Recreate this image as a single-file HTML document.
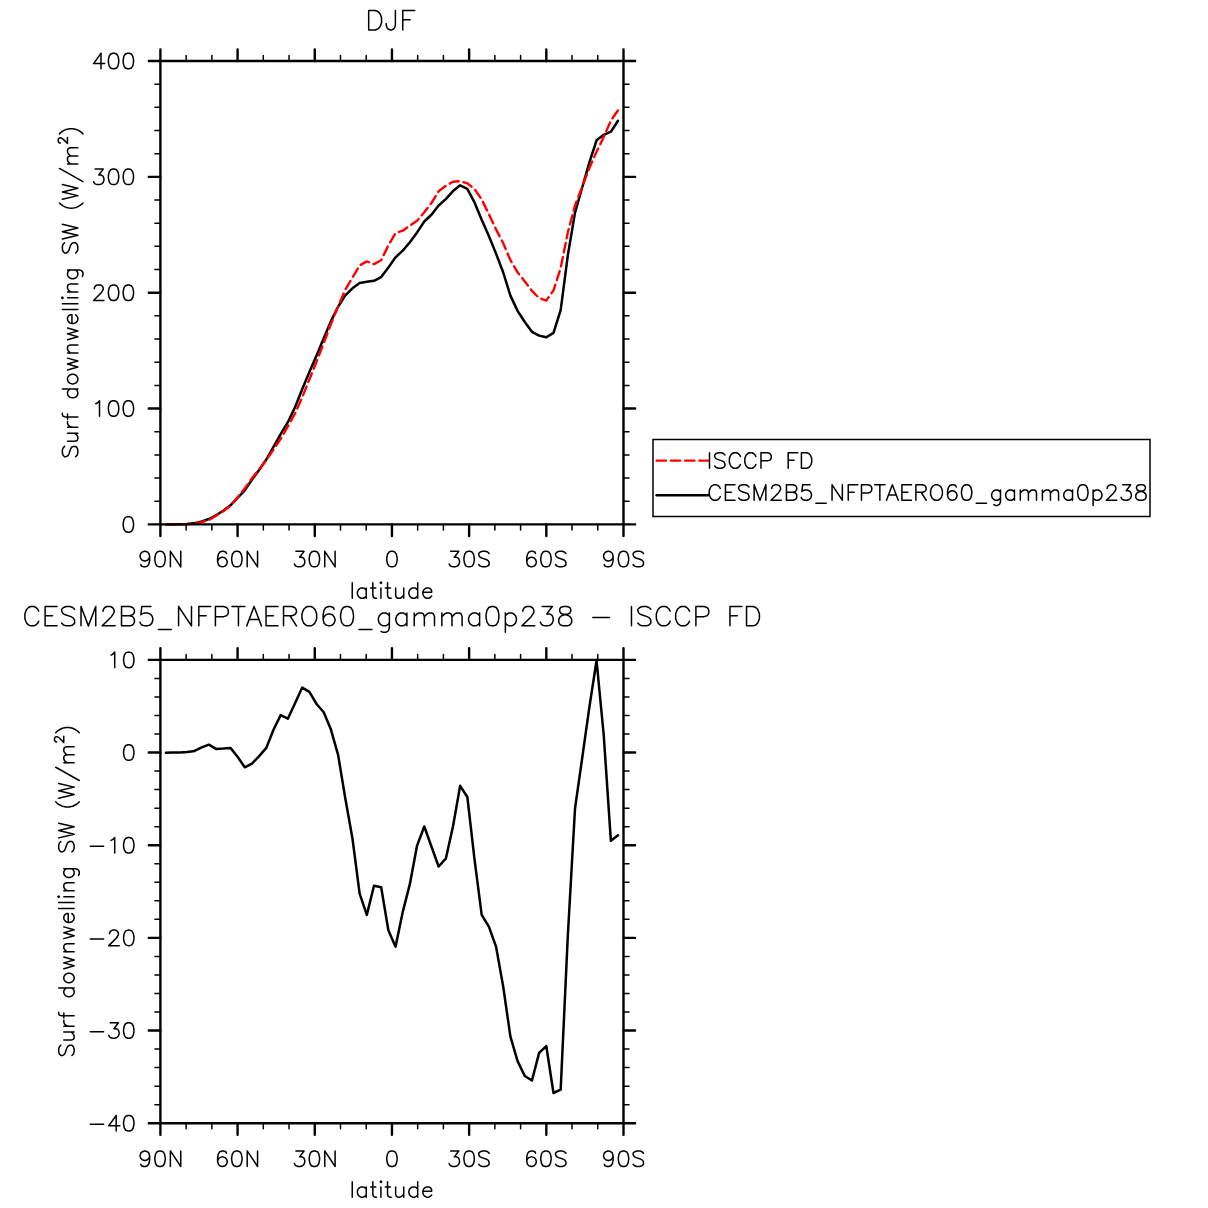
<!DOCTYPE html>
<html><head><meta charset="utf-8"><style>
html,body{margin:0;padding:0;background:#fff;}
svg{display:block;}
</style></head><body>
<svg width="1208" height="1208" viewBox="0 0 1208 1208">
<rect width="1208" height="1208" fill="#fff"/>
<path d="M165.90,524.40 L173.02,524.40 L180.18,524.20 L187.35,524.00 L194.52,523.10 L201.70,521.50 L208.88,519.00 L216.05,515.30 L223.23,510.70 L230.41,505.30 L237.59,497.90 L244.77,490.40 L251.95,479.70 L259.13,470.00 L266.31,459.50 L273.49,446.80 L280.67,434.10 L287.85,422.20 L295.03,407.30 L302.21,389.20 L309.38,371.90 L316.56,355.45 L323.74,338.20 L330.92,321.15 L338.10,306.75 L345.28,295.45 L352.46,288.35 L359.64,283.10 L366.82,281.70 L374.00,280.80 L381.18,277.10 L388.36,267.60 L395.54,257.30 L402.72,250.60 L409.90,242.20 L417.08,232.40 L424.26,221.50 L431.44,214.75 L438.62,205.55 L445.80,199.10 L452.98,191.05 L460.16,185.30 L467.34,188.85 L474.52,202.45 L481.69,219.70 L488.87,236.00 L496.05,253.60 L503.23,272.50 L510.41,295.65 L517.59,310.85 L524.77,321.95 L531.95,331.80 L539.13,335.60 L546.31,337.30 L553.49,332.90 L560.67,310.10 L567.85,255.10 L575.02,212.60 L582.20,187.50 L589.38,162.30 L596.55,140.30 L603.72,134.80 L610.88,131.70 L618.00,120.70" fill="none" stroke="#000" stroke-width="2.5" stroke-linejoin="round" stroke-linecap="round"/>
<path d="M165.90,524.37 L173.02,524.41 L180.18,524.21 L187.35,524.06 L194.52,523.31 L201.70,522.15 L208.88,519.98 L216.05,515.76 L223.23,511.21 L230.41,505.88 L237.59,497.37 L244.77,488.56 L251.95,478.32 L259.13,469.56 L266.31,460.08 L273.49,449.66 L280.67,438.78 L287.85,426.43 L295.03,413.47 L302.21,397.32 L309.38,379.50 L316.56,361.52 L323.74,343.25 L330.92,324.02 L338.10,306.46 L345.28,289.73 L352.46,277.61 L359.64,265.45 L366.82,261.40 L374.00,264.15 L381.18,260.27 L388.36,245.38 L395.54,233.03 L402.72,230.65 L409.90,225.78 L417.08,220.77 L424.26,212.26 L431.44,203.00 L438.62,191.30 L445.80,185.83 L452.98,181.81 L460.16,181.14 L467.34,183.29 L474.52,189.10 L481.69,199.42 L488.87,214.24 L496.05,229.34 L503.23,243.23 L510.41,260.14 L517.59,272.27 L524.77,281.51 L531.95,290.80 L539.13,298.05 L546.31,300.59 L553.49,290.34 L560.67,267.96 L567.85,232.29 L575.02,205.61 L582.20,186.82 L589.38,167.97 L596.55,151.81 L603.72,137.00 L610.88,120.67 L618.00,110.37" fill="none" stroke="#f00" stroke-width="2.4" stroke-dasharray="9.44 4.877" stroke-dashoffset="-1.58" stroke-linejoin="round" stroke-linecap="round"/>
<path d="M165.90,752.80 L173.02,752.50 L180.18,752.50 L187.35,752.10 L194.52,750.90 L201.70,747.40 L208.88,744.70 L216.05,748.90 L223.23,748.50 L230.41,747.90 L237.59,756.80 L244.77,767.30 L251.95,763.60 L259.13,756.10 L266.31,747.90 L273.49,729.70 L280.67,715.10 L287.85,718.70 L295.03,703.20 L302.21,687.60 L309.38,691.80 L316.56,704.00 L323.74,712.20 L330.92,729.60 L338.10,754.90 L345.28,798.30 L352.46,838.50 L359.64,893.70 L366.82,914.90 L374.00,885.70 L381.18,887.20 L388.36,930.30 L395.54,946.70 L402.72,912.10 L409.90,883.90 L417.08,845.60 L424.26,826.50 L431.44,846.50 L438.62,866.50 L445.80,858.70 L452.98,826.50 L460.16,785.80 L467.34,797.00 L474.52,859.30 L481.69,914.80 L488.87,926.60 L496.05,946.60 L503.23,986.70 L510.41,1036.60 L517.59,1061.10 L524.77,1076.00 L531.95,1080.50 L539.13,1052.90 L546.31,1046.20 L553.49,1093.00 L560.67,1089.60 L567.85,935.00 L575.02,808.50 L582.20,758.00 L589.38,707.20 L596.55,660.50 L603.72,735.00 L610.88,840.80 L618.00,835.20" fill="none" stroke="#000" stroke-width="2.5" stroke-linejoin="round" stroke-linecap="round"/>
<path d="M160.4,61.0H623.5V524.4H160.4Z" fill="none" stroke="#000" stroke-width="2.4" stroke-linejoin="round"/>
<path d="M160.40,61.0V49.4M160.40,524.4V536.0M237.58,61.0V49.4M237.58,524.4V536.0M314.77,61.0V49.4M314.77,524.4V536.0M391.95,61.0V49.4M391.95,524.4V536.0M469.13,61.0V49.4M469.13,524.4V536.0M546.32,61.0V49.4M546.32,524.4V536.0M623.50,61.0V49.4M623.50,524.4V536.0M160.4,524.40H148.8M623.5,524.40H635.1M160.4,408.55H148.8M623.5,408.55H635.1M160.4,292.70H148.8M623.5,292.70H635.1M160.4,176.85H148.8M623.5,176.85H635.1M160.4,61.00H148.8M623.5,61.00H635.1" fill="none" stroke="#000" stroke-width="2.4" stroke-linecap="round"/>
<path d="M186.13,61.0V55.5M186.13,524.4V529.9M211.86,61.0V55.5M211.86,524.4V529.9M263.31,61.0V55.5M263.31,524.4V529.9M289.04,61.0V55.5M289.04,524.4V529.9M340.49,61.0V55.5M340.49,524.4V529.9M366.22,61.0V55.5M366.22,524.4V529.9M417.68,61.0V55.5M417.68,524.4V529.9M443.41,61.0V55.5M443.41,524.4V529.9M494.86,61.0V55.5M494.86,524.4V529.9M520.59,61.0V55.5M520.59,524.4V529.9M572.04,61.0V55.5M572.04,524.4V529.9M597.77,61.0V55.5M597.77,524.4V529.9M160.4,501.23H154.9M623.5,501.23H629.0M160.4,478.06H154.9M623.5,478.06H629.0M160.4,454.89H154.9M623.5,454.89H629.0M160.4,431.72H154.9M623.5,431.72H629.0M160.4,385.38H154.9M623.5,385.38H629.0M160.4,362.21H154.9M623.5,362.21H629.0M160.4,339.04H154.9M623.5,339.04H629.0M160.4,315.87H154.9M623.5,315.87H629.0M160.4,269.53H154.9M623.5,269.53H629.0M160.4,246.36H154.9M623.5,246.36H629.0M160.4,223.19H154.9M623.5,223.19H629.0M160.4,200.02H154.9M623.5,200.02H629.0M160.4,153.68H154.9M623.5,153.68H629.0M160.4,130.51H154.9M623.5,130.51H629.0M160.4,107.34H154.9M623.5,107.34H629.0M160.4,84.17H154.9M623.5,84.17H629.0" fill="none" stroke="#000" stroke-width="1.5" stroke-linecap="round"/>
<path d="M160.4,659.9H623.5V1123.2H160.4Z" fill="none" stroke="#000" stroke-width="2.4" stroke-linejoin="round"/>
<path d="M160.40,659.9V648.3M160.40,1123.2V1134.8M237.58,659.9V648.3M237.58,1123.2V1134.8M314.77,659.9V648.3M314.77,1123.2V1134.8M391.95,659.9V648.3M391.95,1123.2V1134.8M469.13,659.9V648.3M469.13,1123.2V1134.8M546.32,659.9V648.3M546.32,1123.2V1134.8M623.50,659.9V648.3M623.50,1123.2V1134.8M160.4,1123.20H148.8M623.5,1123.20H635.1M160.4,1030.54H148.8M623.5,1030.54H635.1M160.4,937.88H148.8M623.5,937.88H635.1M160.4,845.22H148.8M623.5,845.22H635.1M160.4,752.56H148.8M623.5,752.56H635.1M160.4,659.90H148.8M623.5,659.90H635.1" fill="none" stroke="#000" stroke-width="2.4" stroke-linecap="round"/>
<path d="M186.13,659.9V654.4M186.13,1123.2V1128.7M211.86,659.9V654.4M211.86,1123.2V1128.7M263.31,659.9V654.4M263.31,1123.2V1128.7M289.04,659.9V654.4M289.04,1123.2V1128.7M340.49,659.9V654.4M340.49,1123.2V1128.7M366.22,659.9V654.4M366.22,1123.2V1128.7M417.68,659.9V654.4M417.68,1123.2V1128.7M443.41,659.9V654.4M443.41,1123.2V1128.7M494.86,659.9V654.4M494.86,1123.2V1128.7M520.59,659.9V654.4M520.59,1123.2V1128.7M572.04,659.9V654.4M572.04,1123.2V1128.7M597.77,659.9V654.4M597.77,1123.2V1128.7M160.4,1104.67H154.9M623.5,1104.67H629.0M160.4,1086.14H154.9M623.5,1086.14H629.0M160.4,1067.60H154.9M623.5,1067.60H629.0M160.4,1049.07H154.9M623.5,1049.07H629.0M160.4,1012.01H154.9M623.5,1012.01H629.0M160.4,993.48H154.9M623.5,993.48H629.0M160.4,974.94H154.9M623.5,974.94H629.0M160.4,956.41H154.9M623.5,956.41H629.0M160.4,919.35H154.9M623.5,919.35H629.0M160.4,900.82H154.9M623.5,900.82H629.0M160.4,882.28H154.9M623.5,882.28H629.0M160.4,863.75H154.9M623.5,863.75H629.0M160.4,826.69H154.9M623.5,826.69H629.0M160.4,808.16H154.9M623.5,808.16H629.0M160.4,789.62H154.9M623.5,789.62H629.0M160.4,771.09H154.9M623.5,771.09H629.0M160.4,734.03H154.9M623.5,734.03H629.0M160.4,715.50H154.9M623.5,715.50H629.0M160.4,696.96H154.9M623.5,696.96H629.0M160.4,678.43H154.9M623.5,678.43H629.0" fill="none" stroke="#000" stroke-width="1.5" stroke-linecap="round"/>
<rect x="653" y="439.5" width="497" height="77" fill="none" stroke="#000" stroke-width="1.5"/>
<path d="M656.6,460.6H708.5" stroke="#f00" stroke-width="2.4" stroke-dasharray="9.4 4.85" stroke-linecap="round"/>
<path d="M656.6,495.3H708.5" stroke="#000" stroke-width="2.5" stroke-linecap="round"/>
<path d="M368.69,10.58L368.69,29.92M368.69,10.58L375.13,10.58L377.89,11.51L379.73,13.35L380.65,15.19L381.57,17.95L381.57,22.55L380.65,25.31L379.73,27.15L377.89,28.99L375.13,29.92L368.69,29.92M395.38,10.58L395.38,25.31L394.46,28.07L393.54,28.99L391.70,29.92L389.86,29.92L388.02,28.99L387.10,28.07L386.18,25.31L386.18,23.47M402.75,10.58L402.75,29.92M402.75,10.58L414.71,10.58M402.75,19.79L410.11,19.79M127.63,516.63L125.41,517.37L123.93,519.59L123.19,523.29L123.19,525.51L123.93,529.21L125.41,531.43L127.63,532.17L129.11,532.17L131.33,531.43L132.81,529.21L133.55,525.51L133.55,523.29L132.81,519.59L131.33,517.37L129.11,516.63L127.63,516.63M95.81,403.74L97.29,403.00L99.51,400.78L99.51,416.32M112.83,400.78L110.61,401.52L109.13,403.74L108.39,407.44L108.39,409.66L109.13,413.36L110.61,415.58L112.83,416.32L114.31,416.32L116.53,415.58L118.01,413.36L118.75,409.66L118.75,407.44L118.01,403.74L116.53,401.52L114.31,400.78L112.83,400.78M127.63,400.78L125.41,401.52L123.93,403.74L123.19,407.44L123.19,409.66L123.93,413.36L125.41,415.58L127.63,416.32L129.11,416.32L131.33,415.58L132.81,413.36L133.55,409.66L133.55,407.44L132.81,403.74L131.33,401.52L129.11,400.78L127.63,400.78M94.33,288.63L94.33,287.89L95.07,286.41L95.81,285.67L97.29,284.93L100.25,284.93L101.73,285.67L102.47,286.41L103.21,287.89L103.21,289.37L102.47,290.85L100.99,293.07L93.59,300.47L103.95,300.47M112.83,284.93L110.61,285.67L109.13,287.89L108.39,291.59L108.39,293.81L109.13,297.51L110.61,299.73L112.83,300.47L114.31,300.47L116.53,299.73L118.01,297.51L118.75,293.81L118.75,291.59L118.01,287.89L116.53,285.67L114.31,284.93L112.83,284.93M127.63,284.93L125.41,285.67L123.93,287.89L123.19,291.59L123.19,293.81L123.93,297.51L125.41,299.73L127.63,300.47L129.11,300.47L131.33,299.73L132.81,297.51L133.55,293.81L133.55,291.59L132.81,287.89L131.33,285.67L129.11,284.93L127.63,284.93M95.07,169.08L103.21,169.08L98.77,175.00L100.99,175.00L102.47,175.74L103.21,176.48L103.95,178.70L103.95,180.18L103.21,182.40L101.73,183.88L99.51,184.62L97.29,184.62L95.07,183.88L94.33,183.14L93.59,181.66M112.83,169.08L110.61,169.82L109.13,172.04L108.39,175.74L108.39,177.96L109.13,181.66L110.61,183.88L112.83,184.62L114.31,184.62L116.53,183.88L118.01,181.66L118.75,177.96L118.75,175.74L118.01,172.04L116.53,169.82L114.31,169.08L112.83,169.08M127.63,169.08L125.41,169.82L123.93,172.04L123.19,175.74L123.19,177.96L123.93,181.66L125.41,183.88L127.63,184.62L129.11,184.62L131.33,183.88L132.81,181.66L133.55,177.96L133.55,175.74L132.81,172.04L131.33,169.82L129.11,169.08L127.63,169.08M100.99,53.23L93.59,63.59L104.69,63.59M100.99,53.23L100.99,68.77M112.83,53.23L110.61,53.97L109.13,56.19L108.39,59.89L108.39,62.11L109.13,65.81L110.61,68.03L112.83,68.77L114.31,68.77L116.53,68.03L118.01,65.81L118.75,62.11L118.75,59.89L118.01,56.19L116.53,53.97L114.31,53.23L112.83,53.23M127.63,53.23L125.41,53.97L123.93,56.19L123.19,59.89L123.19,62.11L123.93,65.81L125.41,68.03L127.63,68.77L129.11,68.77L131.33,68.03L132.81,65.81L133.55,62.11L133.55,59.89L132.81,56.19L131.33,53.97L129.11,53.23L127.63,53.23M111.01,655.09L112.49,654.35L114.71,652.13L114.71,667.67M128.03,652.13L125.81,652.87L124.33,655.09L123.59,658.79L123.59,661.01L124.33,664.71L125.81,666.93L128.03,667.67L129.51,667.67L131.73,666.93L133.21,664.71L133.95,661.01L133.95,658.79L133.21,655.09L131.73,652.87L129.51,652.13L128.03,652.13M128.03,744.79L125.81,745.53L124.33,747.75L123.59,751.45L123.59,753.67L124.33,757.37L125.81,759.59L128.03,760.33L129.51,760.33L131.73,759.59L133.21,757.37L133.95,753.67L133.95,751.45L133.21,747.75L131.73,745.53L129.51,744.79L128.03,744.79M90.29,846.33L103.61,846.33M111.01,840.41L112.49,839.67L114.71,837.45L114.71,852.99M128.03,837.45L125.81,838.19L124.33,840.41L123.59,844.11L123.59,846.33L124.33,850.03L125.81,852.25L128.03,852.99L129.51,852.99L131.73,852.25L133.21,850.03L133.95,846.33L133.95,844.11L133.21,840.41L131.73,838.19L129.51,837.45L128.03,837.45M90.29,938.99L103.61,938.99M109.53,933.81L109.53,933.07L110.27,931.59L111.01,930.85L112.49,930.11L115.45,930.11L116.93,930.85L117.67,931.59L118.41,933.07L118.41,934.55L117.67,936.03L116.19,938.25L108.79,945.65L119.15,945.65M128.03,930.11L125.81,930.85L124.33,933.07L123.59,936.77L123.59,938.99L124.33,942.69L125.81,944.91L128.03,945.65L129.51,945.65L131.73,944.91L133.21,942.69L133.95,938.99L133.95,936.77L133.21,933.07L131.73,930.85L129.51,930.11L128.03,930.11M90.29,1031.65L103.61,1031.65M110.27,1022.77L118.41,1022.77L113.97,1028.69L116.19,1028.69L117.67,1029.43L118.41,1030.17L119.15,1032.39L119.15,1033.87L118.41,1036.09L116.93,1037.57L114.71,1038.31L112.49,1038.31L110.27,1037.57L109.53,1036.83L108.79,1035.35M128.03,1022.77L125.81,1023.51L124.33,1025.73L123.59,1029.43L123.59,1031.65L124.33,1035.35L125.81,1037.57L128.03,1038.31L129.51,1038.31L131.73,1037.57L133.21,1035.35L133.95,1031.65L133.95,1029.43L133.21,1025.73L131.73,1023.51L129.51,1022.77L128.03,1022.77M90.29,1124.31L103.61,1124.31M116.19,1115.43L108.79,1125.79L119.89,1125.79M116.19,1115.43L116.19,1130.97M128.03,1115.43L125.81,1116.17L124.33,1118.39L123.59,1122.09L123.59,1124.31L124.33,1128.01L125.81,1130.23L128.03,1130.97L129.51,1130.97L131.73,1130.23L133.21,1128.01L133.95,1124.31L133.95,1122.09L133.21,1118.39L131.73,1116.17L129.51,1115.43L128.03,1115.43M149.67,556.51L148.93,558.73L147.45,560.21L145.23,560.95L144.49,560.95L142.27,560.21L140.79,558.73L140.05,556.51L140.05,555.77L140.79,553.55L142.27,552.07L144.49,551.33L145.23,551.33L147.45,552.07L148.93,553.55L149.67,556.51L149.67,560.21L148.93,563.91L147.45,566.13L145.23,566.87L143.75,566.87L141.53,566.13L140.79,564.65M159.29,551.33L157.07,552.07L155.59,554.29L154.85,557.99L154.85,560.21L155.59,563.91L157.07,566.13L159.29,566.87L160.77,566.87L162.99,566.13L164.47,563.91L165.21,560.21L165.21,557.99L164.47,554.29L162.99,552.07L160.77,551.33L159.29,551.33M170.39,551.33L170.39,566.87M170.39,551.33L180.75,566.87M180.75,551.33L180.75,566.87M149.67,1156.11L148.93,1158.33L147.45,1159.81L145.23,1160.55L144.49,1160.55L142.27,1159.81L140.79,1158.33L140.05,1156.11L140.05,1155.37L140.79,1153.15L142.27,1151.67L144.49,1150.93L145.23,1150.93L147.45,1151.67L148.93,1153.15L149.67,1156.11L149.67,1159.81L148.93,1163.51L147.45,1165.73L145.23,1166.47L143.75,1166.47L141.53,1165.73L140.79,1164.25M159.29,1150.93L157.07,1151.67L155.59,1153.89L154.85,1157.59L154.85,1159.81L155.59,1163.51L157.07,1165.73L159.29,1166.47L160.77,1166.47L162.99,1165.73L164.47,1163.51L165.21,1159.81L165.21,1157.59L164.47,1153.89L162.99,1151.67L160.77,1150.93L159.29,1150.93M170.39,1150.93L170.39,1166.47M170.39,1150.93L180.75,1166.47M180.75,1150.93L180.75,1166.47M226.48,553.55L225.74,552.07L223.52,551.33L222.04,551.33L219.82,552.07L218.34,554.29L217.60,557.99L217.60,561.69L218.34,564.65L219.82,566.13L222.04,566.87L222.78,566.87L225.00,566.13L226.48,564.65L227.22,562.43L227.22,561.69L226.48,559.47L225.00,557.99L222.78,557.25L222.04,557.25L219.82,557.99L218.34,559.47L217.60,561.69M236.10,551.33L233.88,552.07L232.40,554.29L231.66,557.99L231.66,560.21L232.40,563.91L233.88,566.13L236.10,566.87L237.58,566.87L239.80,566.13L241.28,563.91L242.02,560.21L242.02,557.99L241.28,554.29L239.80,552.07L237.58,551.33L236.10,551.33M247.20,551.33L247.20,566.87M247.20,551.33L257.56,566.87M257.56,551.33L257.56,566.87M226.48,1153.15L225.74,1151.67L223.52,1150.93L222.04,1150.93L219.82,1151.67L218.34,1153.89L217.60,1157.59L217.60,1161.29L218.34,1164.25L219.82,1165.73L222.04,1166.47L222.78,1166.47L225.00,1165.73L226.48,1164.25L227.22,1162.03L227.22,1161.29L226.48,1159.07L225.00,1157.59L222.78,1156.85L222.04,1156.85L219.82,1157.59L218.34,1159.07L217.60,1161.29M236.10,1150.93L233.88,1151.67L232.40,1153.89L231.66,1157.59L231.66,1159.81L232.40,1163.51L233.88,1165.73L236.10,1166.47L237.58,1166.47L239.80,1165.73L241.28,1163.51L242.02,1159.81L242.02,1157.59L241.28,1153.89L239.80,1151.67L237.58,1150.93L236.10,1150.93M247.20,1150.93L247.20,1166.47M247.20,1150.93L257.56,1166.47M257.56,1150.93L257.56,1166.47M295.90,551.33L304.04,551.33L299.60,557.25L301.82,557.25L303.30,557.99L304.04,558.73L304.78,560.95L304.78,562.43L304.04,564.65L302.56,566.13L300.34,566.87L298.12,566.87L295.90,566.13L295.16,565.39L294.42,563.91M313.66,551.33L311.44,552.07L309.96,554.29L309.22,557.99L309.22,560.21L309.96,563.91L311.44,566.13L313.66,566.87L315.14,566.87L317.36,566.13L318.84,563.91L319.58,560.21L319.58,557.99L318.84,554.29L317.36,552.07L315.14,551.33L313.66,551.33M324.76,551.33L324.76,566.87M324.76,551.33L335.12,566.87M335.12,551.33L335.12,566.87M295.90,1150.93L304.04,1150.93L299.60,1156.85L301.82,1156.85L303.30,1157.59L304.04,1158.33L304.78,1160.55L304.78,1162.03L304.04,1164.25L302.56,1165.73L300.34,1166.47L298.12,1166.47L295.90,1165.73L295.16,1164.99L294.42,1163.51M313.66,1150.93L311.44,1151.67L309.96,1153.89L309.22,1157.59L309.22,1159.81L309.96,1163.51L311.44,1165.73L313.66,1166.47L315.14,1166.47L317.36,1165.73L318.84,1163.51L319.58,1159.81L319.58,1157.59L318.84,1153.89L317.36,1151.67L315.14,1150.93L313.66,1150.93M324.76,1150.93L324.76,1166.47M324.76,1150.93L335.12,1166.47M335.12,1150.93L335.12,1166.47M391.21,551.33L388.99,552.07L387.51,554.29L386.77,557.99L386.77,560.21L387.51,563.91L388.99,566.13L391.21,566.87L392.69,566.87L394.91,566.13L396.39,563.91L397.13,560.21L397.13,557.99L396.39,554.29L394.91,552.07L392.69,551.33L391.21,551.33M391.21,1150.93L388.99,1151.67L387.51,1153.89L386.77,1157.59L386.77,1159.81L387.51,1163.51L388.99,1165.73L391.21,1166.47L392.69,1166.47L394.91,1165.73L396.39,1163.51L397.13,1159.81L397.13,1157.59L396.39,1153.89L394.91,1151.67L392.69,1150.93L391.21,1150.93M450.63,551.33L458.77,551.33L454.33,557.25L456.55,557.25L458.03,557.99L458.77,558.73L459.51,560.95L459.51,562.43L458.77,564.65L457.29,566.13L455.07,566.87L452.85,566.87L450.63,566.13L449.89,565.39L449.15,563.91M468.39,551.33L466.17,552.07L464.69,554.29L463.95,557.99L463.95,560.21L464.69,563.91L466.17,566.13L468.39,566.87L469.87,566.87L472.09,566.13L473.57,563.91L474.31,560.21L474.31,557.99L473.57,554.29L472.09,552.07L469.87,551.33L468.39,551.33M489.11,553.55L487.63,552.07L485.41,551.33L482.45,551.33L480.23,552.07L478.75,553.55L478.75,555.03L479.49,556.51L480.23,557.25L481.71,557.99L486.15,559.47L487.63,560.21L488.37,560.95L489.11,562.43L489.11,564.65L487.63,566.13L485.41,566.87L482.45,566.87L480.23,566.13L478.75,564.65M450.63,1150.93L458.77,1150.93L454.33,1156.85L456.55,1156.85L458.03,1157.59L458.77,1158.33L459.51,1160.55L459.51,1162.03L458.77,1164.25L457.29,1165.73L455.07,1166.47L452.85,1166.47L450.63,1165.73L449.89,1164.99L449.15,1163.51M468.39,1150.93L466.17,1151.67L464.69,1153.89L463.95,1157.59L463.95,1159.81L464.69,1163.51L466.17,1165.73L468.39,1166.47L469.87,1166.47L472.09,1165.73L473.57,1163.51L474.31,1159.81L474.31,1157.59L473.57,1153.89L472.09,1151.67L469.87,1150.93L468.39,1150.93M489.11,1153.15L487.63,1151.67L485.41,1150.93L482.45,1150.93L480.23,1151.67L478.75,1153.15L478.75,1154.63L479.49,1156.11L480.23,1156.85L481.71,1157.59L486.15,1159.07L487.63,1159.81L488.37,1160.55L489.11,1162.03L489.11,1164.25L487.63,1165.73L485.41,1166.47L482.45,1166.47L480.23,1165.73L478.75,1164.25M535.59,553.55L534.85,552.07L532.63,551.33L531.15,551.33L528.93,552.07L527.45,554.29L526.71,557.99L526.71,561.69L527.45,564.65L528.93,566.13L531.15,566.87L531.89,566.87L534.11,566.13L535.59,564.65L536.33,562.43L536.33,561.69L535.59,559.47L534.11,557.99L531.89,557.25L531.15,557.25L528.93,557.99L527.45,559.47L526.71,561.69M545.21,551.33L542.99,552.07L541.51,554.29L540.77,557.99L540.77,560.21L541.51,563.91L542.99,566.13L545.21,566.87L546.69,566.87L548.91,566.13L550.39,563.91L551.13,560.21L551.13,557.99L550.39,554.29L548.91,552.07L546.69,551.33L545.21,551.33M565.93,553.55L564.45,552.07L562.23,551.33L559.27,551.33L557.05,552.07L555.57,553.55L555.57,555.03L556.31,556.51L557.05,557.25L558.53,557.99L562.97,559.47L564.45,560.21L565.19,560.95L565.93,562.43L565.93,564.65L564.45,566.13L562.23,566.87L559.27,566.87L557.05,566.13L555.57,564.65M535.59,1153.15L534.85,1151.67L532.63,1150.93L531.15,1150.93L528.93,1151.67L527.45,1153.89L526.71,1157.59L526.71,1161.29L527.45,1164.25L528.93,1165.73L531.15,1166.47L531.89,1166.47L534.11,1165.73L535.59,1164.25L536.33,1162.03L536.33,1161.29L535.59,1159.07L534.11,1157.59L531.89,1156.85L531.15,1156.85L528.93,1157.59L527.45,1159.07L526.71,1161.29M545.21,1150.93L542.99,1151.67L541.51,1153.89L540.77,1157.59L540.77,1159.81L541.51,1163.51L542.99,1165.73L545.21,1166.47L546.69,1166.47L548.91,1165.73L550.39,1163.51L551.13,1159.81L551.13,1157.59L550.39,1153.89L548.91,1151.67L546.69,1150.93L545.21,1150.93M565.93,1153.15L564.45,1151.67L562.23,1150.93L559.27,1150.93L557.05,1151.67L555.57,1153.15L555.57,1154.63L556.31,1156.11L557.05,1156.85L558.53,1157.59L562.97,1159.07L564.45,1159.81L565.19,1160.55L565.93,1162.03L565.93,1164.25L564.45,1165.73L562.23,1166.47L559.27,1166.47L557.05,1165.73L555.57,1164.25M613.14,556.51L612.40,558.73L610.92,560.21L608.70,560.95L607.96,560.95L605.74,560.21L604.26,558.73L603.52,556.51L603.52,555.77L604.26,553.55L605.74,552.07L607.96,551.33L608.70,551.33L610.92,552.07L612.40,553.55L613.14,556.51L613.14,560.21L612.40,563.91L610.92,566.13L608.70,566.87L607.22,566.87L605.00,566.13L604.26,564.65M622.76,551.33L620.54,552.07L619.06,554.29L618.32,557.99L618.32,560.21L619.06,563.91L620.54,566.13L622.76,566.87L624.24,566.87L626.46,566.13L627.94,563.91L628.68,560.21L628.68,557.99L627.94,554.29L626.46,552.07L624.24,551.33L622.76,551.33M643.48,553.55L642.00,552.07L639.78,551.33L636.82,551.33L634.60,552.07L633.12,553.55L633.12,555.03L633.86,556.51L634.60,557.25L636.08,557.99L640.52,559.47L642.00,560.21L642.74,560.95L643.48,562.43L643.48,564.65L642.00,566.13L639.78,566.87L636.82,566.87L634.60,566.13L633.12,564.65M613.14,1156.11L612.40,1158.33L610.92,1159.81L608.70,1160.55L607.96,1160.55L605.74,1159.81L604.26,1158.33L603.52,1156.11L603.52,1155.37L604.26,1153.15L605.74,1151.67L607.96,1150.93L608.70,1150.93L610.92,1151.67L612.40,1153.15L613.14,1156.11L613.14,1159.81L612.40,1163.51L610.92,1165.73L608.70,1166.47L607.22,1166.47L605.00,1165.73L604.26,1164.25M622.76,1150.93L620.54,1151.67L619.06,1153.89L618.32,1157.59L618.32,1159.81L619.06,1163.51L620.54,1165.73L622.76,1166.47L624.24,1166.47L626.46,1165.73L627.94,1163.51L628.68,1159.81L628.68,1157.59L627.94,1153.89L626.46,1151.67L624.24,1150.93L622.76,1150.93M643.48,1153.15L642.00,1151.67L639.78,1150.93L636.82,1150.93L634.60,1151.67L633.12,1153.15L633.12,1154.63L633.86,1156.11L634.60,1156.85L636.08,1157.59L640.52,1159.07L642.00,1159.81L642.74,1160.55L643.48,1162.03L643.48,1164.25L642.00,1165.73L639.78,1166.47L636.82,1166.47L634.60,1165.73L633.12,1164.25M352.24,582.78L352.24,598.22M366.21,587.93L366.21,598.22M366.21,590.13L364.74,588.66L363.27,587.93L361.06,587.93L359.59,588.66L358.12,590.13L357.39,592.34L357.39,593.81L358.12,596.02L359.59,597.49L361.06,598.22L363.27,598.22L364.74,597.49L366.21,596.02M372.83,582.78L372.83,595.28L373.56,597.49L375.04,598.22L376.51,598.22M370.62,587.93L375.77,587.93M380.18,582.78L380.92,583.51L381.65,582.78L380.92,582.04L380.18,582.78M380.92,587.93L380.92,598.22M387.54,582.78L387.54,595.28L388.27,597.49L389.74,598.22L391.21,598.22M385.33,587.93L390.48,587.93M395.63,587.93L395.63,595.28L396.36,597.49L397.83,598.22L400.04,598.22L401.51,597.49L403.72,595.28M403.72,587.93L403.72,598.22M417.69,582.78L417.69,598.22M417.69,590.13L416.22,588.66L414.75,587.93L412.54,587.93L411.07,588.66L409.60,590.13L408.86,592.34L408.86,593.81L409.60,596.02L411.07,597.49L412.54,598.22L414.75,598.22L416.22,597.49L417.69,596.02M422.84,592.34L431.66,592.34L431.66,590.87L430.93,589.40L430.19,588.66L428.72,587.93L426.51,587.93L425.04,588.66L423.57,590.13L422.84,592.34L422.84,593.81L423.57,596.02L425.04,597.49L426.51,598.22L428.72,598.22L430.19,597.49L431.66,596.02M352.24,1181.73L352.24,1197.17M366.21,1186.88L366.21,1197.17M366.21,1189.08L364.74,1187.61L363.27,1186.88L361.06,1186.88L359.59,1187.61L358.12,1189.08L357.39,1191.29L357.39,1192.76L358.12,1194.97L359.59,1196.44L361.06,1197.17L363.27,1197.17L364.74,1196.44L366.21,1194.97M372.83,1181.73L372.83,1194.23L373.56,1196.44L375.04,1197.17L376.51,1197.17M370.62,1186.88L375.77,1186.88M380.18,1181.73L380.92,1182.46L381.65,1181.73L380.92,1180.99L380.18,1181.73M380.92,1186.88L380.92,1197.17M387.54,1181.73L387.54,1194.23L388.27,1196.44L389.74,1197.17L391.21,1197.17M385.33,1186.88L390.48,1186.88M395.63,1186.88L395.63,1194.23L396.36,1196.44L397.83,1197.17L400.04,1197.17L401.51,1196.44L403.72,1194.23M403.72,1186.88L403.72,1197.17M417.69,1181.73L417.69,1197.17M417.69,1189.08L416.22,1187.61L414.75,1186.88L412.54,1186.88L411.07,1187.61L409.60,1189.08L408.86,1191.29L408.86,1192.76L409.60,1194.97L411.07,1196.44L412.54,1197.17L414.75,1197.17L416.22,1196.44L417.69,1194.97M422.84,1191.29L431.66,1191.29L431.66,1189.82L430.93,1188.35L430.19,1187.61L428.72,1186.88L426.51,1186.88L425.04,1187.61L423.57,1189.08L422.84,1191.29L422.84,1192.76L423.57,1194.97L425.04,1196.44L426.51,1197.17L428.72,1197.17L430.19,1196.44L431.66,1194.97M38.68,611.14L37.76,609.30L35.92,607.46L34.08,606.53L30.39,606.53L28.55,607.46L26.71,609.30L25.79,611.14L24.87,613.90L24.87,618.50L25.79,621.26L26.71,623.10L28.55,624.94L30.39,625.87L34.08,625.87L35.92,624.94L37.76,623.10L38.68,621.26M45.12,606.53L45.12,625.87M45.12,606.53L57.09,606.53M45.12,615.74L52.49,615.74M45.12,625.87L57.09,625.87M74.58,609.30L72.74,607.46L69.97,606.53L66.29,606.53L63.53,607.46L61.69,609.30L61.69,611.14L62.61,612.98L63.53,613.90L65.37,614.82L70.90,616.66L72.74,617.58L73.66,618.50L74.58,620.34L74.58,623.10L72.74,624.94L69.97,625.87L66.29,625.87L63.53,624.94L61.69,623.10M81.02,606.53L81.02,625.87M81.02,606.53L88.38,625.87M95.75,606.53L88.38,625.87M95.75,606.53L95.75,625.87M103.11,611.14L103.11,610.22L104.03,608.38L104.95,607.46L106.79,606.53L110.48,606.53L112.32,607.46L113.24,608.38L114.16,610.22L114.16,612.06L113.24,613.90L111.40,616.66L102.19,625.87L115.08,625.87M121.52,606.53L121.52,625.87M121.52,606.53L129.81,606.53L132.57,607.46L133.49,608.38L134.41,610.22L134.41,612.06L133.49,613.90L132.57,614.82L129.81,615.74M121.52,615.74L129.81,615.74L132.57,616.66L133.49,617.58L134.41,619.42L134.41,622.18L133.49,624.02L132.57,624.94L129.81,625.87L121.52,625.87M150.98,606.53L141.77,606.53L140.85,614.82L141.77,613.90L144.54,612.98L147.30,612.98L150.06,613.90L151.90,615.74L152.82,618.50L152.82,620.34L151.90,623.10L150.06,624.94L147.30,625.87L144.54,625.87L141.77,624.94L140.85,624.02L139.93,622.18M158.34,629.55L171.23,629.55M178.59,606.53L178.59,625.87M178.59,606.53L191.48,625.87M191.48,606.53L191.48,625.87M198.84,606.53L198.84,625.87M198.84,606.53L210.81,606.53M198.84,615.74L206.21,615.74M215.41,606.53L215.41,625.87M215.41,606.53L223.70,606.53L226.46,607.46L227.38,608.38L228.30,610.22L228.30,612.98L227.38,614.82L226.46,615.74L223.70,616.66L215.41,616.66M238.43,606.53L238.43,625.87M231.98,606.53L244.87,606.53M254.07,606.53L246.71,625.87M254.07,606.53L261.44,625.87M249.47,619.42L258.68,619.42M266.04,606.53L266.04,625.87M266.04,606.53L278.01,606.53M266.04,615.74L273.41,615.74M266.04,625.87L278.01,625.87M283.53,606.53L283.53,625.87M283.53,606.53L291.82,606.53L294.58,607.46L295.50,608.38L296.42,610.22L296.42,612.06L295.50,613.90L294.58,614.82L291.82,615.74L283.53,615.74M289.97,615.74L296.42,625.87M307.46,606.53L305.62,607.46L303.78,609.30L302.86,611.14L301.94,613.90L301.94,618.50L302.86,621.26L303.78,623.10L305.62,624.94L307.46,625.87L311.15,625.87L312.99,624.94L314.83,623.10L315.75,621.26L316.67,618.50L316.67,613.90L315.75,611.14L314.83,609.30L312.99,607.46L311.15,606.53L307.46,606.53M334.16,609.30L333.24,607.46L330.48,606.53L328.64,606.53L325.87,607.46L324.03,610.22L323.11,614.82L323.11,619.42L324.03,623.10L325.87,624.94L328.64,625.87L329.56,625.87L332.32,624.94L334.16,623.10L335.08,620.34L335.08,619.42L334.16,616.66L332.32,614.82L329.56,613.90L328.64,613.90L325.87,614.82L324.03,616.66L323.11,619.42M346.12,606.53L343.36,607.46L341.52,610.22L340.60,614.82L340.60,617.58L341.52,622.18L343.36,624.94L346.12,625.87L347.97,625.87L350.73,624.94L352.57,622.18L353.49,617.58L353.49,614.82L352.57,610.22L350.73,607.46L347.97,606.53L346.12,606.53M359.01,629.55L371.90,629.55M389.39,612.98L389.39,627.71L388.47,630.47L387.55,631.39L385.71,632.31L382.94,632.31L381.10,631.39M389.39,615.74L387.55,613.90L385.71,612.98L382.94,612.98L381.10,613.90L379.26,615.74L378.34,618.50L378.34,620.34L379.26,623.10L381.10,624.94L382.94,625.87L385.71,625.87L387.55,624.94L389.39,623.10M406.88,612.98L406.88,625.87M406.88,615.74L405.04,613.90L403.20,612.98L400.43,612.98L398.59,613.90L396.75,615.74L395.83,618.50L395.83,620.34L396.75,623.10L398.59,624.94L400.43,625.87L403.20,625.87L405.04,624.94L406.88,623.10M414.24,612.98L414.24,625.87M414.24,616.66L417.00,613.90L418.84,612.98L421.61,612.98L423.45,613.90L424.37,616.66L424.37,625.87M424.37,616.66L427.13,613.90L428.97,612.98L431.73,612.98L433.57,613.90L434.49,616.66L434.49,625.87M441.86,612.98L441.86,625.87M441.86,616.66L444.62,613.90L446.46,612.98L449.22,612.98L451.06,613.90L451.98,616.66L451.98,625.87M451.98,616.66L454.74,613.90L456.58,612.98L459.35,612.98L461.19,613.90L462.11,616.66L462.11,625.87M479.60,612.98L479.60,625.87M479.60,615.74L477.76,613.90L475.92,612.98L473.15,612.98L471.31,613.90L469.47,615.74L468.55,618.50L468.55,620.34L469.47,623.10L471.31,624.94L473.15,625.87L475.92,625.87L477.76,624.94L479.60,623.10M491.56,606.53L488.80,607.46L486.96,610.22L486.04,614.82L486.04,617.58L486.96,622.18L488.80,624.94L491.56,625.87L493.40,625.87L496.17,624.94L498.01,622.18L498.93,617.58L498.93,614.82L498.01,610.22L496.17,607.46L493.40,606.53L491.56,606.53M505.37,612.98L505.37,632.31M505.37,615.74L507.21,613.90L509.05,612.98L511.81,612.98L513.66,613.90L515.50,615.74L516.42,618.50L516.42,620.34L515.50,623.10L513.66,624.94L511.81,625.87L509.05,625.87L507.21,624.94L505.37,623.10M522.86,611.14L522.86,610.22L523.78,608.38L524.70,607.46L526.54,606.53L530.22,606.53L532.07,607.46L532.99,608.38L533.91,610.22L533.91,612.06L532.99,613.90L531.15,616.66L521.94,625.87L534.83,625.87M542.19,606.53L552.32,606.53L546.79,613.90L549.56,613.90L551.40,614.82L552.32,615.74L553.24,618.50L553.24,620.34L552.32,623.10L550.48,624.94L547.71,625.87L544.95,625.87L542.19,624.94L541.27,624.02L540.35,622.18M563.36,606.53L560.60,607.46L559.68,609.30L559.68,611.14L560.60,612.98L562.44,613.90L566.12,614.82L568.89,615.74L570.73,617.58L571.65,619.42L571.65,622.18L570.73,624.02L569.81,624.94L567.05,625.87L563.36,625.87L560.60,624.94L559.68,624.02L558.76,622.18L558.76,619.42L559.68,617.58L561.52,615.74L564.28,614.82L567.97,613.90L569.81,612.98L570.73,611.14L570.73,609.30L569.81,607.46L567.05,606.53L563.36,606.53M592.82,617.58L609.39,617.58M631.48,606.53L631.48,625.87M650.81,609.30L648.97,607.46L646.21,606.53L642.53,606.53L639.76,607.46L637.92,609.30L637.92,611.14L638.84,612.98L639.76,613.90L641.61,614.82L647.13,616.66L648.97,617.58L649.89,618.50L650.81,620.34L650.81,623.10L648.97,624.94L646.21,625.87L642.53,625.87L639.76,624.94L637.92,623.10M670.14,611.14L669.22,609.30L667.38,607.46L665.54,606.53L661.86,606.53L660.02,607.46L658.17,609.30L657.25,611.14L656.33,613.90L656.33,618.50L657.25,621.26L658.17,623.10L660.02,624.94L661.86,625.87L665.54,625.87L667.38,624.94L669.22,623.10L670.14,621.26M689.47,611.14L688.55,609.30L686.71,607.46L684.87,606.53L681.19,606.53L679.35,607.46L677.50,609.30L676.58,611.14L675.66,613.90L675.66,618.50L676.58,621.26L677.50,623.10L679.35,624.94L681.19,625.87L684.87,625.87L686.71,624.94L688.55,623.10L689.47,621.26M695.91,606.53L695.91,625.87M695.91,606.53L704.20,606.53L706.96,607.46L707.88,608.38L708.80,610.22L708.80,612.98L707.88,614.82L706.96,615.74L704.20,616.66L695.91,616.66M729.97,606.53L729.97,625.87M729.97,606.53L741.94,606.53M729.97,615.74L737.34,615.74M746.54,606.53L746.54,625.87M746.54,606.53L752.99,606.53L755.75,607.46L757.59,609.30L758.51,611.14L759.43,613.90L759.43,618.50L758.51,621.26L757.59,623.10L755.75,624.94L752.99,625.87L746.54,625.87M64.58,446.40L63.11,447.87L62.38,450.08L62.38,453.02L63.11,455.22L64.58,456.69L66.06,456.69L67.53,455.96L68.26,455.22L69.00,453.75L70.47,449.34L71.20,447.87L71.94,447.13L73.41,446.40L75.62,446.40L77.09,447.87L77.82,450.08L77.82,453.02L77.09,455.22L75.62,456.69M67.53,441.25L74.88,441.25L77.09,440.52L77.82,439.04L77.82,436.84L77.09,435.37L74.88,433.16M67.53,433.16L77.82,433.16M67.53,427.28L77.82,427.28M71.94,427.28L69.73,426.54L68.26,425.07L67.53,423.60L67.53,421.39M62.38,413.31L62.38,414.78L63.11,416.25L65.32,416.98L77.82,416.98M67.53,419.19L67.53,414.04M62.38,389.04L77.82,389.04M69.73,389.04L68.26,390.51L67.53,391.98L67.53,394.19L68.26,395.66L69.73,397.13L71.94,397.86L73.41,397.86L75.62,397.13L77.09,395.66L77.82,394.19L77.82,391.98L77.09,390.51L75.62,389.04M67.53,380.21L68.26,381.68L69.73,383.15L71.94,383.89L73.41,383.89L75.62,383.15L77.09,381.68L77.82,380.21L77.82,378.01L77.09,376.54L75.62,375.06L73.41,374.33L71.94,374.33L69.73,375.06L68.26,376.54L67.53,378.01L67.53,380.21M67.53,369.92L77.82,366.98M67.53,364.03L77.82,366.98M67.53,364.03L77.82,361.09M67.53,358.15L77.82,361.09M67.53,353.00L77.82,353.00M70.47,353.00L68.26,350.80L67.53,349.33L67.53,347.12L68.26,345.65L70.47,344.91L77.82,344.91M67.53,339.77L77.82,336.82M67.53,333.88L77.82,336.82M67.53,333.88L77.82,330.94M67.53,328.00L77.82,330.94M71.94,323.59L71.94,314.76L70.47,314.76L69.00,315.50L68.26,316.23L67.53,317.70L67.53,319.91L68.26,321.38L69.73,322.85L71.94,323.59L73.41,323.59L75.62,322.85L77.09,321.38L77.82,319.91L77.82,317.70L77.09,316.23L75.62,314.76M62.38,309.61L77.82,309.61M62.38,303.73L77.82,303.73M62.38,298.58L63.11,297.85L62.38,297.11L61.64,297.85L62.38,298.58M67.53,297.85L77.82,297.85M67.53,291.96L77.82,291.96M70.47,291.96L68.26,289.76L67.53,288.29L67.53,286.08L68.26,284.61L70.47,283.88L77.82,283.88M67.53,269.90L79.29,269.90L81.50,270.64L82.23,271.37L82.97,272.84L82.97,275.05L82.23,276.52M69.73,269.90L68.26,271.37L67.53,272.84L67.53,275.05L68.26,276.52L69.73,277.99L71.94,278.73L73.41,278.73L75.62,277.99L77.09,276.52L77.82,275.05L77.82,272.84L77.09,271.37L75.62,269.90M64.58,242.69L63.11,244.16L62.38,246.37L62.38,249.31L63.11,251.52L64.58,252.99L66.06,252.99L67.53,252.25L68.26,251.52L69.00,250.05L70.47,245.63L71.20,244.16L71.94,243.43L73.41,242.69L75.62,242.69L77.09,244.16L77.82,246.37L77.82,249.31L77.09,251.52L75.62,252.99M62.38,239.02L77.82,235.34M62.38,231.66L77.82,235.34M62.38,231.66L77.82,227.98M62.38,224.31L77.82,227.98M59.44,202.98L60.91,204.45L63.11,205.92L66.06,207.39L69.73,208.13L72.67,208.13L76.35,207.39L79.29,205.92L81.50,204.45L82.97,202.98M62.38,199.30L77.82,195.63M62.38,191.95L77.82,195.63M62.38,191.95L77.82,188.27M62.38,184.60L77.82,188.27M59.44,168.42L82.97,181.65M67.53,164.00L77.82,164.00M70.47,164.00L68.26,161.80L67.53,160.33L67.53,158.12L68.26,156.65L70.47,155.92L77.82,155.92M70.47,155.92L68.26,153.71L67.53,152.24L67.53,150.03L68.26,148.56L70.47,147.83L77.82,147.83M60.39,143.12L59.95,143.12L59.07,142.68L58.63,142.24L58.19,141.35L58.19,139.59L58.63,138.71L59.07,138.27L59.95,137.82L60.83,137.82L61.72,138.27L63.04,139.15L67.45,143.56L67.45,137.38M59.44,133.85L60.91,132.38L63.11,130.91L66.06,129.44L69.73,128.71L72.67,128.71L76.35,129.44L79.29,130.91L81.50,132.38L82.97,133.85M60.88,1045.25L59.41,1046.72L58.68,1048.93L58.68,1051.87L59.41,1054.07L60.88,1055.54L62.36,1055.54L63.83,1054.81L64.56,1054.07L65.30,1052.60L66.77,1048.19L67.50,1046.72L68.24,1045.98L69.71,1045.25L71.92,1045.25L73.39,1046.72L74.12,1048.93L74.12,1051.87L73.39,1054.07L71.92,1055.54M63.83,1040.10L71.18,1040.10L73.39,1039.37L74.12,1037.89L74.12,1035.69L73.39,1034.22L71.18,1032.01M63.83,1032.01L74.12,1032.01M63.83,1026.13L74.12,1026.13M68.24,1026.13L66.03,1025.39L64.56,1023.92L63.83,1022.45L63.83,1020.24M58.68,1012.16L58.68,1013.63L59.41,1015.10L61.62,1015.83L74.12,1015.83M63.83,1018.04L63.83,1012.89M58.68,987.89L74.12,987.89M66.03,987.89L64.56,989.36L63.83,990.83L63.83,993.04L64.56,994.51L66.03,995.98L68.24,996.71L69.71,996.71L71.92,995.98L73.39,994.51L74.12,993.04L74.12,990.83L73.39,989.36L71.92,987.89M63.83,979.06L64.56,980.53L66.03,982.00L68.24,982.74L69.71,982.74L71.92,982.00L73.39,980.53L74.12,979.06L74.12,976.86L73.39,975.39L71.92,973.91L69.71,973.18L68.24,973.18L66.03,973.91L64.56,975.39L63.83,976.86L63.83,979.06M63.83,968.77L74.12,965.83M63.83,962.88L74.12,965.83M63.83,962.88L74.12,959.94M63.83,957.00L74.12,959.94M63.83,951.85L74.12,951.85M66.77,951.85L64.56,949.65L63.83,948.18L63.83,945.97L64.56,944.50L66.77,943.76L74.12,943.76M63.83,938.62L74.12,935.67M63.83,932.73L74.12,935.67M63.83,932.73L74.12,929.79M63.83,926.85L74.12,929.79M68.24,922.44L68.24,913.61L66.77,913.61L65.30,914.35L64.56,915.08L63.83,916.55L63.83,918.76L64.56,920.23L66.03,921.70L68.24,922.44L69.71,922.44L71.92,921.70L73.39,920.23L74.12,918.76L74.12,916.55L73.39,915.08L71.92,913.61M58.68,908.46L74.12,908.46M58.68,902.58L74.12,902.58M58.68,897.43L59.41,896.70L58.68,895.96L57.94,896.70L58.68,897.43M63.83,896.70L74.12,896.70M63.83,890.81L74.12,890.81M66.77,890.81L64.56,888.61L63.83,887.14L63.83,884.93L64.56,883.46L66.77,882.73L74.12,882.73M63.83,868.75L75.59,868.75L77.80,869.49L78.53,870.22L79.27,871.69L79.27,873.90L78.53,875.37M66.03,868.75L64.56,870.22L63.83,871.69L63.83,873.90L64.56,875.37L66.03,876.84L68.24,877.58L69.71,877.58L71.92,876.84L73.39,875.37L74.12,873.90L74.12,871.69L73.39,870.22L71.92,868.75M60.88,841.54L59.41,843.01L58.68,845.22L58.68,848.16L59.41,850.37L60.88,851.84L62.36,851.84L63.83,851.10L64.56,850.37L65.30,848.90L66.77,844.48L67.50,843.01L68.24,842.28L69.71,841.54L71.92,841.54L73.39,843.01L74.12,845.22L74.12,848.16L73.39,850.37L71.92,851.84M58.68,837.87L74.12,834.19M58.68,830.51L74.12,834.19M58.68,830.51L74.12,826.83M58.68,823.16L74.12,826.83M55.74,801.83L57.21,803.30L59.41,804.77L62.36,806.24L66.03,806.98L68.97,806.98L72.65,806.24L75.59,804.77L77.80,803.30L79.27,801.83M58.68,798.15L74.12,794.48M58.68,790.80L74.12,794.48M58.68,790.80L74.12,787.12M58.68,783.45L74.12,787.12M55.74,767.27L79.27,780.50M63.83,762.85L74.12,762.85M66.77,762.85L64.56,760.65L63.83,759.18L63.83,756.97L64.56,755.50L66.77,754.77L74.12,754.77M66.77,754.77L64.56,752.56L63.83,751.09L63.83,748.88L64.56,747.41L66.77,746.68L74.12,746.68M56.69,741.97L56.25,741.97L55.37,741.53L54.93,741.09L54.49,740.20L54.49,738.44L54.93,737.56L55.37,737.12L56.25,736.67L57.13,736.67L58.02,737.12L59.34,738.00L63.75,742.41L63.75,736.23M55.74,732.70L57.21,731.23L59.41,729.76L62.36,728.29L66.03,727.56L68.97,727.56L72.65,728.29L75.59,729.76L77.80,731.23L79.27,732.70M709.50,452.78L709.50,468.22M724.94,454.98L723.47,453.51L721.27,452.78L718.32,452.78L716.12,453.51L714.65,454.98L714.65,456.46L715.38,457.93L716.12,458.66L717.59,459.40L722.00,460.87L723.47,461.60L724.21,462.34L724.94,463.81L724.94,466.02L723.47,467.49L721.27,468.22L718.32,468.22L716.12,467.49L714.65,466.02M740.39,456.46L739.65,454.98L738.18,453.51L736.71,452.78L733.77,452.78L732.30,453.51L730.83,454.98L730.09,456.46L729.36,458.66L729.36,462.34L730.09,464.54L730.83,466.02L732.30,467.49L733.77,468.22L736.71,468.22L738.18,467.49L739.65,466.02L740.39,464.54M755.83,456.46L755.09,454.98L753.62,453.51L752.15,452.78L749.21,452.78L747.74,453.51L746.27,454.98L745.53,456.46L744.80,458.66L744.80,462.34L745.53,464.54L746.27,466.02L747.74,467.49L749.21,468.22L752.15,468.22L753.62,467.49L755.09,466.02L755.83,464.54M760.98,452.78L760.98,468.22M760.98,452.78L767.60,452.78L769.80,453.51L770.54,454.25L771.27,455.72L771.27,457.93L770.54,459.40L769.80,460.13L767.60,460.87L760.98,460.87M788.19,452.78L788.19,468.22M788.19,452.78L797.75,452.78M788.19,460.13L794.07,460.13M801.42,452.78L801.42,468.22M801.42,452.78L806.57,452.78L808.78,453.51L810.25,454.98L810.99,456.46L811.72,458.66L811.72,462.34L810.99,464.54L810.25,466.02L808.78,467.49L806.57,468.22L801.42,468.22M720.28,488.51L719.55,487.03L718.07,485.56L716.60,484.83L713.66,484.83L712.19,485.56L710.72,487.03L709.99,488.51L709.25,490.71L709.25,494.39L709.99,496.59L710.72,498.07L712.19,499.54L713.66,500.27L716.60,500.27L718.07,499.54L719.55,498.07L720.28,496.59M725.43,484.83L725.43,500.27M725.43,484.83L734.99,484.83M725.43,492.18L731.31,492.18M725.43,500.27L734.99,500.27M748.96,487.03L747.49,485.56L745.28,484.83L742.34,484.83L740.14,485.56L738.67,487.03L738.67,488.51L739.40,489.98L740.14,490.71L741.61,491.45L746.02,492.92L747.49,493.65L748.23,494.39L748.96,495.86L748.96,498.07L747.49,499.54L745.28,500.27L742.34,500.27L740.14,499.54L738.67,498.07M754.11,484.83L754.11,500.27M754.11,484.83L759.99,500.27M765.88,484.83L759.99,500.27M765.88,484.83L765.88,500.27M771.76,488.51L771.76,487.77L772.49,486.30L773.23,485.56L774.70,484.83L777.64,484.83L779.11,485.56L779.85,486.30L780.58,487.77L780.58,489.24L779.85,490.71L778.38,492.92L771.02,500.27L781.32,500.27M786.47,484.83L786.47,500.27M786.47,484.83L793.09,484.83L795.29,485.56L796.03,486.30L796.76,487.77L796.76,489.24L796.03,490.71L795.29,491.45L793.09,492.18M786.47,492.18L793.09,492.18L795.29,492.92L796.03,493.65L796.76,495.12L796.76,497.33L796.03,498.80L795.29,499.54L793.09,500.27L786.47,500.27M810.00,484.83L802.65,484.83L801.91,491.45L802.65,490.71L804.85,489.98L807.06,489.98L809.26,490.71L810.74,492.18L811.47,494.39L811.47,495.86L810.74,498.07L809.26,499.54L807.06,500.27L804.85,500.27L802.65,499.54L801.91,498.80L801.18,497.33M815.88,503.21L826.18,503.21M832.06,484.83L832.06,500.27M832.06,484.83L842.36,500.27M842.36,484.83L842.36,500.27M848.24,484.83L848.24,500.27M848.24,484.83L857.80,484.83M848.24,492.18L854.12,492.18M861.48,484.83L861.48,500.27M861.48,484.83L868.10,484.83L870.30,485.56L871.04,486.30L871.77,487.77L871.77,489.98L871.04,491.45L870.30,492.18L868.10,492.92L861.48,492.92M879.86,484.83L879.86,500.27M874.72,484.83L885.01,484.83M892.36,484.83L886.48,500.27M892.36,484.83L898.25,500.27M888.69,495.12L896.04,495.12M901.92,484.83L901.92,500.27M901.92,484.83L911.49,484.83M901.92,492.18L907.81,492.18M901.92,500.27L911.49,500.27M915.90,484.83L915.90,500.27M915.90,484.83L922.52,484.83L924.72,485.56L925.46,486.30L926.19,487.77L926.19,489.24L925.46,490.71L924.72,491.45L922.52,492.18L915.90,492.18M921.05,492.18L926.19,500.27M935.02,484.83L933.55,485.56L932.08,487.03L931.34,488.51L930.61,490.71L930.61,494.39L931.34,496.59L932.08,498.07L933.55,499.54L935.02,500.27L937.96,500.27L939.43,499.54L940.90,498.07L941.64,496.59L942.37,494.39L942.37,490.71L941.64,488.51L940.90,487.03L939.43,485.56L937.96,484.83L935.02,484.83M956.34,487.03L955.61,485.56L953.40,484.83L951.93,484.83L949.73,485.56L948.26,487.77L947.52,491.45L947.52,495.12L948.26,498.07L949.73,499.54L951.93,500.27L952.67,500.27L954.87,499.54L956.34,498.07L957.08,495.86L957.08,495.12L956.34,492.92L954.87,491.45L952.67,490.71L951.93,490.71L949.73,491.45L948.26,492.92L947.52,495.12M965.90,484.83L963.70,485.56L962.23,487.77L961.49,491.45L961.49,493.65L962.23,497.33L963.70,499.54L965.90,500.27L967.38,500.27L969.58,499.54L971.05,497.33L971.79,493.65L971.79,491.45L971.05,487.77L969.58,485.56L967.38,484.83L965.90,484.83M976.20,503.21L986.50,503.21M1000.47,489.98L1000.47,501.74L999.73,503.95L999.00,504.68L997.53,505.42L995.32,505.42L993.85,504.68M1000.47,492.18L999.00,490.71L997.53,489.98L995.32,489.98L993.85,490.71L992.38,492.18L991.64,494.39L991.64,495.86L992.38,498.07L993.85,499.54L995.32,500.27L997.53,500.27L999.00,499.54L1000.47,498.07M1014.44,489.98L1014.44,500.27M1014.44,492.18L1012.97,490.71L1011.50,489.98L1009.29,489.98L1007.82,490.71L1006.35,492.18L1005.62,494.39L1005.62,495.86L1006.35,498.07L1007.82,499.54L1009.29,500.27L1011.50,500.27L1012.97,499.54L1014.44,498.07M1020.32,489.98L1020.32,500.27M1020.32,492.92L1022.53,490.71L1024.00,489.98L1026.21,489.98L1027.68,490.71L1028.41,492.92L1028.41,500.27M1028.41,492.92L1030.62,490.71L1032.09,489.98L1034.30,489.98L1035.77,490.71L1036.50,492.92L1036.50,500.27M1042.39,489.98L1042.39,500.27M1042.39,492.92L1044.59,490.71L1046.06,489.98L1048.27,489.98L1049.74,490.71L1050.48,492.92L1050.48,500.27M1050.48,492.92L1052.68,490.71L1054.15,489.98L1056.36,489.98L1057.83,490.71L1058.57,492.92L1058.57,500.27M1072.54,489.98L1072.54,500.27M1072.54,492.18L1071.07,490.71L1069.60,489.98L1067.39,489.98L1065.92,490.71L1064.45,492.18L1063.71,494.39L1063.71,495.86L1064.45,498.07L1065.92,499.54L1067.39,500.27L1069.60,500.27L1071.07,499.54L1072.54,498.07M1082.10,484.83L1079.89,485.56L1078.42,487.77L1077.69,491.45L1077.69,493.65L1078.42,497.33L1079.89,499.54L1082.10,500.27L1083.57,500.27L1085.77,499.54L1087.25,497.33L1087.98,493.65L1087.98,491.45L1087.25,487.77L1085.77,485.56L1083.57,484.83L1082.10,484.83M1093.13,489.98L1093.13,505.42M1093.13,492.18L1094.60,490.71L1096.07,489.98L1098.28,489.98L1099.75,490.71L1101.22,492.18L1101.95,494.39L1101.95,495.86L1101.22,498.07L1099.75,499.54L1098.28,500.27L1096.07,500.27L1094.60,499.54L1093.13,498.07M1107.10,488.51L1107.10,487.77L1107.84,486.30L1108.57,485.56L1110.04,484.83L1112.98,484.83L1114.46,485.56L1115.19,486.30L1115.93,487.77L1115.93,489.24L1115.19,490.71L1113.72,492.92L1106.37,500.27L1116.66,500.27M1122.54,484.83L1130.63,484.83L1126.22,490.71L1128.43,490.71L1129.90,491.45L1130.63,492.18L1131.37,494.39L1131.37,495.86L1130.63,498.07L1129.16,499.54L1126.96,500.27L1124.75,500.27L1122.54,499.54L1121.81,498.80L1121.07,497.33M1139.46,484.83L1137.25,485.56L1136.52,487.03L1136.52,488.51L1137.25,489.98L1138.72,490.71L1141.67,491.45L1143.87,492.18L1145.34,493.65L1146.08,495.12L1146.08,497.33L1145.34,498.80L1144.61,499.54L1142.40,500.27L1139.46,500.27L1137.25,499.54L1136.52,498.80L1135.78,497.33L1135.78,495.12L1136.52,493.65L1137.99,492.18L1140.19,491.45L1143.14,490.71L1144.61,489.98L1145.34,488.51L1145.34,487.03L1144.61,485.56L1142.40,484.83L1139.46,484.83" fill="none" stroke="#000" stroke-width="1.5" stroke-linecap="round" stroke-linejoin="round"/>
</svg>
</body></html>
